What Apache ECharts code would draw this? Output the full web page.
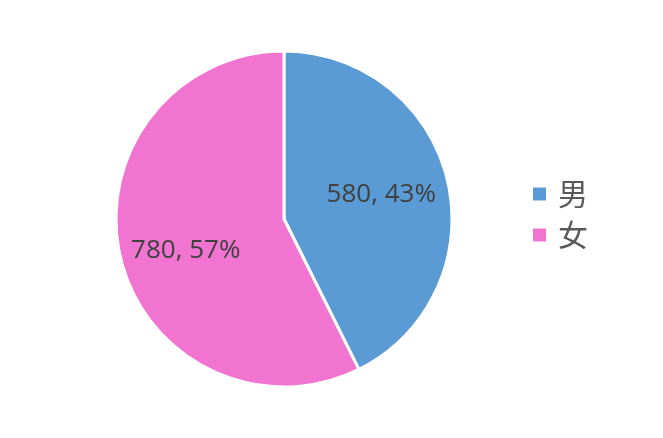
<!DOCTYPE html>
<html><head><meta charset="utf-8">
<script src="https://cdn.jsdelivr.net/npm/echarts@6/dist/echarts.min.js"></script>
<style>html,body{margin:0;padding:0;background:#fff}#c{width:663px;height:438px}</style>
</head><body><div id="c"></div>
<script>
const categories = ['男', '女'];
const values = [580, 780];
const colors = ['#5B9BD5', '#F174D1'];

const data = categories.map((n, i) => ({ name: n, value: values[i], itemStyle: { color: colors[i] } }));
const chart = echarts.init(document.getElementById('c'));
chart.setOption({
  animation: false,
  legend: {
    orient: 'vertical', left: 526, top: 174,
    itemWidth: 15, itemHeight: 15, itemGap: 11,
    icon: 'rect',
    textStyle: { fontSize: 30, color: '#595959', fontFamily: 'Noto Sans CJK SC', padding: [0, 0, 0, 6] },
    data: categories.map((n, i) => ({ name: n, itemStyle: { color: colors[i] } }))
  },
  series: [{
    type: 'pie', center: [284, 219], radius: [0, 168], startAngle: 90, clockwise: true,
    itemStyle: { borderColor: '#fff', borderWidth: 3 },
    label: { show: false }, labelLine: { show: false },
    data: data
  }, {
    type: 'pie', center: [284, 219], radius: [0, 200], startAngle: 90, clockwise: true,
    silent: true, z: 5,
    itemStyle: { color: 'rgba(0,0,0,0)', borderWidth: 0 },
    label: {
      show: true, position: 'inside', fontSize: 26, color: '#404040',
      fontFamily: 'Open Sans',
      formatter: p => p.value + ', ' + Math.round(p.percent) + '%'
    },
    labelLine: { show: false },
    data: categories.map((n, i) => ({ name: n, value: values[i], label: i === 1 ? { offset: [2, 8] } : { offset: [-3, -1] } }))
  }]
});
</script></body></html>
